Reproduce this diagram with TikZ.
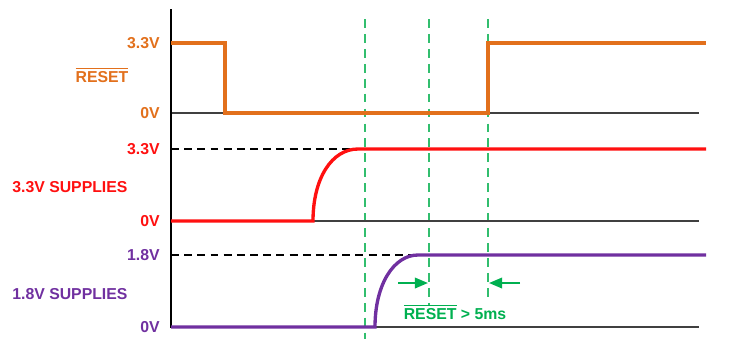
\documentclass[tikz,border=0pt]{standalone}
\usepackage{fontspec}
\newfontfamily\arial{Liberation Sans}
\usepackage{tikz}
\usetikzlibrary{arrows.meta}
\usepackage{xcolor}
\definecolor{rstorange}{RGB}{226,112,28}
\definecolor{supred}{RGB}{255,16,16}
\definecolor{suppurple}{RGB}{112,48,160}
\definecolor{tgreen}{RGB}{0,176,80}
\definecolor{tgreenl}{RGB}{50,190,110}

\begin{document}
\begin{tikzpicture}[x=0.02cm, y=-0.02cm,
      sig/.style={line width=1.9pt, line join=miter},
      base/.style={line width=0.8pt, draw=black!75},
      lvlref/.style={line width=0.6pt, dash pattern=on 4.5pt off 3pt},
      tline/.style={line width=0.6pt, draw=tgreenl, dash pattern=on 5pt off 3.5pt},
      gap/.style={line width=1.2pt, draw=tgreen, -{Triangle[length=7.5pt, width=6pt]}},
      txt/.style={font=\arial\bfseries\fontsize{9}{10}\selectfont, inner sep=0pt},
      lvl/.style={txt, anchor=east},
      signame/.style={txt, anchor=west}]
    \useasboundingbox (0,0) rectangle (730,339);
    % timing lines
    \draw[tline] (365,19) -- (365,339);
    \draw[tline] (429,19) -- (429,305);
    \draw[tline] (488,19) -- (488,298);
    % baselines and reference levels
    \draw[base] (171,113) -- (699,113);
    \draw[base] (171,221) -- (699,221);
    \draw[base] (171,327) -- (699,327);
    \draw[lvlref] (171,149) -- (358,149);
    \draw[lvlref] (171,255) -- (418,255);
    \draw[line width=1.1pt] (171,9) -- (171,328);
    % signals
    \draw[sig, rstorange] (171,43) -- (225,43) -- (225,113) -- (488,113) -- (488,43) -- (706,43);
    \draw[sig, supred] (171,221) -- (313,221) .. controls (313,178) and (332,149) .. (358,149) -- (706,149);
    \draw[sig, suppurple] (171,327) -- (375,327) .. controls (375,284) and (394,255) .. (418,255) -- (706,255);
    % labels
    \node[lvl, text=rstorange] (rsthi) at (160,43) {3.3V};
    \node[txt, text=rstorange] (rstname) at (102,75) {$\overline{\mbox{RESET}}$};
    \node[lvl, text=rstorange] (rstlo) at (160,113) {0V};
    \node[lvl, text=supred] (s33hi) at (160,149) {3.3V};
    \node[signame, text=supred] (s33name) at (12,187) {3.3V SUPPLIES};
    \node[lvl, text=supred] (s33lo) at (160,221) {0V};
    \node[lvl, text=suppurple] (s18hi) at (160,255) {1.8V};
    \node[signame, text=suppurple] (s18name) at (12,294) {1.8V SUPPLIES};
    \node[lvl, text=suppurple] (s18lo) at (160,327) {0V};
    % reset width
    \coordinate (gapl) at (398,283);
    \coordinate (gapr) at (520,283);
    \coordinate (pwrok) at (428,283);
    \coordinate (rstup) at (489,283);
    \draw[gap] (gapl) -- (pwrok);
    \draw[gap] (gapr) -- (rstup);
    \node[txt, text=tgreen] (rstgap) at (455,312) {$\overline{\mbox{RESET}}$ > 5ms};
\end{tikzpicture}
\end{document}
